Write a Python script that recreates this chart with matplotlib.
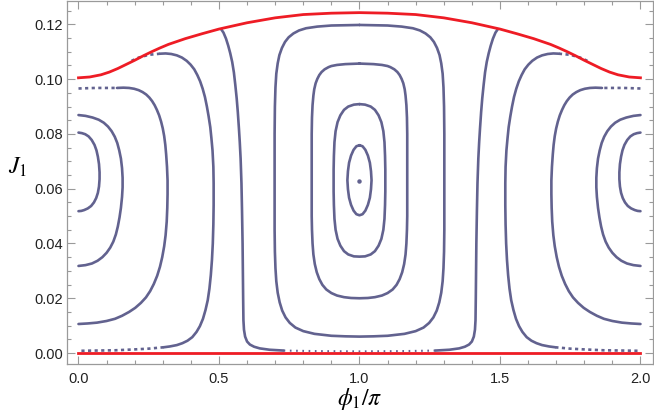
import matplotlib
matplotlib.use("Agg")
import matplotlib.pyplot as plt
from matplotlib.ticker import MultipleLocator

# ---------------------------------------------------------------------------
# data (x in units of pi, J1)
# ---------------------------------------------------------------------------

# red boundaries
upper_x = [0.00, 0.04, 0.08, 0.11, 0.14, 0.17, 0.20, 0.23, 0.26, 0.29, 0.32, 0.38,
           0.44, 0.50, 0.60, 0.70, 0.80, 0.90, 1.00, 1.10, 1.20, 1.30, 1.40, 1.50,
           1.56, 1.62, 1.68, 1.71, 1.74, 1.77, 1.80, 1.83, 1.86, 1.89, 1.92, 1.96,
           2.00]
upper_j = [0.1005, 0.1008, 0.1016, 0.1026, 0.1039, 0.1054, 0.1069, 0.1085, 0.1100,
           0.1114, 0.1127, 0.1148, 0.1166, 0.1183, 0.1206, 0.1224, 0.1236, 0.1241,
           0.1243, 0.1241, 0.1236, 0.1224, 0.1206, 0.1183, 0.1166, 0.1148, 0.1127,
           0.1114, 0.1100, 0.1085, 0.1069, 0.1054, 0.1039, 0.1026, 0.1016, 0.1008,
           0.1005]
lower_x = [0.0, 2.0]
lower_j = [0.0, 0.0]

# fixed point at phi = pi
center_x = [1.0]
center_j = [0.0630]

# closed orbits around phi = pi
c1_x = [1.000, 0.989, 0.979, 0.970, 0.963, 0.959, 0.957, 0.959, 0.963, 0.970, 0.979,
        0.989, 1.000,
        1.011, 1.021, 1.030, 1.037, 1.041, 1.043, 1.041, 1.037, 1.030, 1.021, 1.011,
        1.000]
c1_j = [0.0759, 0.0755, 0.0742, 0.0721, 0.0695, 0.0664, 0.0631, 0.0598, 0.0567, 0.0541,
        0.0520, 0.0507, 0.0503,
        0.0507, 0.0520, 0.0541, 0.0567, 0.0598, 0.0631, 0.0664, 0.0695, 0.0721, 0.0742,
        0.0755, 0.0759]

c2_x = [1.000, 0.980, 0.960, 0.945, 0.932, 0.922, 0.915, 0.911, 0.909, 0.908, 0.908,
        0.908, 0.909, 0.911, 0.915, 0.922, 0.932, 0.945, 0.960, 0.980, 1.000,
        1.020, 1.040, 1.055, 1.068, 1.078, 1.085, 1.089, 1.091, 1.092, 1.092, 1.092,
        1.091, 1.089, 1.085, 1.078, 1.068, 1.055, 1.040, 1.020, 1.000]
c2_j = [0.0909, 0.0907, 0.0900, 0.0888, 0.0868, 0.0843, 0.0810, 0.0770, 0.0720, 0.0670,
        0.0630, 0.0590, 0.0540, 0.0490, 0.0450, 0.0417, 0.0392, 0.0372, 0.0360, 0.0353,
        0.0352,
        0.0353, 0.0360, 0.0372, 0.0392, 0.0417, 0.0450, 0.0490, 0.0540, 0.0590, 0.0630,
        0.0670, 0.0720, 0.0770, 0.0810, 0.0843, 0.0868, 0.0888, 0.0900, 0.0907, 0.0909]

c3_x = [1.000, 0.950, 0.920, 0.900, 0.890, 0.876, 0.865, 0.857, 0.850, 0.844, 0.839,
        0.836, 0.833, 0.831, 0.830, 0.830, 0.830, 0.831, 0.833, 0.836, 0.841, 0.848,
        0.857, 0.868, 0.882, 0.900, 0.920, 0.945, 0.970, 1.000,
        1.030, 1.055, 1.080, 1.100, 1.118, 1.132, 1.143, 1.152, 1.159, 1.164, 1.167,
        1.169, 1.170, 1.170, 1.170, 1.169, 1.167, 1.164, 1.161, 1.156, 1.150, 1.143,
        1.135, 1.124, 1.110, 1.100, 1.080, 1.050, 1.000]
c3_j = [0.1057, 0.1055, 0.1052, 0.1048, 0.1044, 0.1036, 0.1026, 0.1015, 0.1001, 0.0985,
        0.0963, 0.0940, 0.0905, 0.0860, 0.0800, 0.0630, 0.0500, 0.0450, 0.0400, 0.0360,
        0.0325, 0.0295, 0.0270, 0.0249, 0.0232, 0.0219, 0.0210, 0.0204, 0.0201, 0.0200,
        0.0201, 0.0204, 0.0210, 0.0219, 0.0232, 0.0249, 0.0270, 0.0295, 0.0325, 0.0360,
        0.0400, 0.0450, 0.0500, 0.0630, 0.0800, 0.0860, 0.0905, 0.0940, 0.0963, 0.0985,
        0.1001, 0.1015, 0.1026, 0.1036, 0.1044, 0.1048, 0.1052, 0.1055, 0.1057]

c4_x = [1.000, 0.950, 0.900, 0.850, 0.810, 0.785, 0.765, 0.748, 0.735, 0.724, 0.715,
        0.709, 0.704, 0.701, 0.699, 0.698, 0.698, 0.699, 0.701, 0.704, 0.709, 0.716,
        0.725, 0.737, 0.752, 0.772, 0.800, 0.840, 0.900, 0.950, 1.000,
        1.050, 1.100, 1.160, 1.200, 1.228, 1.248, 1.263, 1.275, 1.284, 1.291, 1.296,
        1.299, 1.301, 1.302, 1.302, 1.301, 1.299, 1.296, 1.291, 1.285, 1.276, 1.265,
        1.252, 1.235, 1.215, 1.190, 1.150, 1.100, 1.050, 1.000]
c4_j = [0.1198, 0.1197, 0.1196, 0.1192, 0.1186, 0.1178, 0.1167, 0.1153, 0.1136, 0.1114,
        0.1088, 0.1058, 0.1020, 0.0970, 0.0900, 0.0800, 0.0450, 0.0370, 0.0310, 0.0262,
        0.0220, 0.0185, 0.0155, 0.0130, 0.0110, 0.0093, 0.0080, 0.0070, 0.0063, 0.0061,
        0.0060,
        0.0061, 0.0063, 0.0070, 0.0080, 0.0093, 0.0110, 0.0130, 0.0155, 0.0185, 0.0220,
        0.0262, 0.0310, 0.0370, 0.0450, 0.0800, 0.0900, 0.0970, 0.1020, 0.1058, 0.1088,
        0.1114, 0.1136, 0.1153, 0.1167, 0.1178, 0.1186, 0.1192, 0.1196, 0.1197, 0.1198]

# separatrix-like curves (vertical branches near 0.58 pi / 1.42 pi)
s1_x = [0.508, 0.516, 0.525, 0.533, 0.540, 0.547, 0.553, 0.558, 0.563, 0.567, 0.571,
        0.574, 0.577, 0.580, 0.582, 0.584, 0.585, 0.586, 0.587, 0.589, 0.593, 0.600,
        0.610, 0.625, 0.645, 0.680, 0.730]
s1_j = [0.1182, 0.1170, 0.1148, 0.1122, 0.1095, 0.1063, 0.1025, 0.0980, 0.0930, 0.0880,
        0.0820, 0.0770, 0.0710, 0.0620, 0.0520, 0.0400, 0.0300, 0.0200, 0.0120, 0.0085,
        0.0060, 0.0042, 0.0031, 0.0023, 0.0017, 0.0012, 0.0009]
s2_x = [1.270, 1.320, 1.355, 1.375, 1.390, 1.400, 1.407, 1.411, 1.413, 1.414, 1.415,
        1.416, 1.418, 1.420, 1.423, 1.426, 1.429, 1.433, 1.437, 1.442, 1.447, 1.453,
        1.460, 1.467, 1.475, 1.484, 1.492]
s2_j = [0.0009, 0.0012, 0.0017, 0.0023, 0.0031, 0.0042, 0.0060, 0.0085, 0.0120, 0.0200,
        0.0300, 0.0400, 0.0520, 0.0620, 0.0710, 0.0770, 0.0820, 0.0880, 0.0930, 0.0980,
        0.1025, 0.1063, 0.1095, 0.1122, 0.1148, 0.1170, 0.1182]
s_bottom_x = [0.730, 0.850, 1.000, 1.150, 1.270]
s_bottom_j = [0.0009, 0.0007, 0.0006, 0.0007, 0.0009]

# orbits around phi = 0 (left edge)
l1_x = [0.000, 0.012, 0.024, 0.036, 0.047, 0.057, 0.064, 0.069, 0.073, 0.075, 0.075,
        0.073, 0.069, 0.063, 0.055, 0.045, 0.033, 0.020, 0.010, 0.000]
l1_j = [0.0805, 0.0803, 0.0799, 0.0791, 0.0778, 0.0760, 0.0740, 0.0717, 0.0690, 0.0660,
        0.0635, 0.0608, 0.0585, 0.0566, 0.0550, 0.0537, 0.0528, 0.0522, 0.0519, 0.0518]
l2_x = [0.000, 0.025, 0.050, 0.072, 0.090, 0.105, 0.118, 0.129, 0.138, 0.145, 0.151,
        0.155, 0.157, 0.157, 0.155, 0.151, 0.146, 0.140, 0.133, 0.124, 0.113, 0.100,
        0.085, 0.068, 0.048, 0.025, 0.000]
l2_j = [0.0869, 0.0866, 0.0860, 0.0852, 0.0841, 0.0827, 0.0810, 0.0790, 0.0767, 0.0740,
        0.0710, 0.0675, 0.0640, 0.0605, 0.0570, 0.0530, 0.0495, 0.0462, 0.0433, 0.0407,
        0.0385, 0.0366, 0.0350, 0.0337, 0.0327, 0.0321, 0.0318]
l3_top_x = [0.000, 0.060, 0.137]
l3_top_j = [0.0966, 0.0968, 0.0968]
l3_x = [0.137, 0.160, 0.180, 0.198, 0.214, 0.228, 0.241, 0.252, 0.262, 0.271, 0.279,
        0.287, 0.294, 0.300, 0.305, 0.309, 0.312, 0.315, 0.317, 0.317, 0.316, 0.314,
        0.310, 0.305, 0.298, 0.290, 0.280, 0.268, 0.255, 0.240, 0.222, 0.202, 0.180,
        0.155, 0.130, 0.100, 0.066, 0.033, 0.000]
l3_j = [0.0968, 0.0969, 0.0968, 0.0965, 0.0960, 0.0953, 0.0944, 0.0933, 0.0920, 0.0905,
        0.0888, 0.0868, 0.0845, 0.0820, 0.0792, 0.0760, 0.0725, 0.0680, 0.0630, 0.0580,
        0.0530, 0.0480, 0.0430, 0.0390, 0.0350, 0.0315, 0.0282, 0.0252, 0.0226, 0.0203,
        0.0183, 0.0165, 0.0150, 0.0136, 0.0125, 0.0117, 0.0111, 0.0108, 0.0106]
l4_top_x = [0.189, 0.215, 0.250, 0.290]
l4_top_j = [0.1067, 0.1079, 0.1089, 0.1093]
l4_x = [0.290, 0.310, 0.330, 0.350, 0.368, 0.385, 0.399, 0.412, 0.423, 0.433, 0.442,
        0.450, 0.457, 0.463, 0.469, 0.473, 0.477, 0.480, 0.481, 0.481, 0.480, 0.478,
        0.475, 0.471, 0.466, 0.460, 0.452, 0.443, 0.432, 0.420, 0.405, 0.388, 0.370,
        0.350, 0.325, 0.303]
l4_j = [0.1093, 0.1094, 0.1092, 0.1087, 0.1079, 0.1067, 0.1053, 0.1036, 0.1015, 0.0992,
        0.0965, 0.0935, 0.0900, 0.0865, 0.0825, 0.0785, 0.0740, 0.0680, 0.0620, 0.0540,
        0.0470, 0.0400, 0.0340, 0.0285, 0.0235, 0.0193, 0.0157, 0.0125, 0.0098, 0.0077,
        0.0058, 0.0045, 0.0036, 0.0029, 0.0024, 0.0021]
l4_bot_x = [0.303, 0.250, 0.196, 0.130, 0.060, 0.000]
l4_bot_j = [0.0021, 0.0016, 0.0013, 0.0010, 0.0009, 0.0008]

# orbits around phi = 2 pi (right edge), same J readings as the left side
r1_x = [2.000, 1.988, 1.976, 1.964, 1.953, 1.943, 1.936, 1.931, 1.927, 1.925, 1.925,
        1.927, 1.931, 1.937, 1.945, 1.955, 1.967, 1.980, 1.990, 2.000]
r1_j = l1_j
r2_x = [2.000, 1.975, 1.950, 1.928, 1.910, 1.895, 1.882, 1.871, 1.862, 1.855, 1.849,
        1.845, 1.843, 1.843, 1.845, 1.849, 1.854, 1.860, 1.867, 1.876, 1.887, 1.900,
        1.915, 1.932, 1.952, 1.975, 2.000]
r2_j = l2_j
r3_top_x = [2.000, 1.940, 1.863]
r3_top_j = l3_top_j
r3_x = [1.863, 1.840, 1.820, 1.802, 1.786, 1.772, 1.759, 1.748, 1.738, 1.729, 1.721,
        1.713, 1.706, 1.700, 1.695, 1.691, 1.688, 1.685, 1.683, 1.683, 1.684, 1.686,
        1.690, 1.695, 1.702, 1.710, 1.720, 1.732, 1.745, 1.760, 1.778, 1.798, 1.820,
        1.845, 1.870, 1.900, 1.934, 1.967, 2.000]
r3_j = l3_j
r4_top_x = [1.811, 1.785, 1.750, 1.710]
r4_top_j = l4_top_j
r4_x = [1.710, 1.690, 1.670, 1.650, 1.632, 1.615, 1.601, 1.588, 1.577, 1.567, 1.558,
        1.550, 1.543, 1.537, 1.531, 1.527, 1.523, 1.520, 1.519, 1.519, 1.520, 1.522,
        1.525, 1.529, 1.534, 1.540, 1.548, 1.557, 1.568, 1.580, 1.595, 1.612, 1.630,
        1.650, 1.675, 1.697]
r4_j = l4_j
r4_bot_x = [1.697, 1.750, 1.804, 1.870, 1.940, 2.000]
r4_bot_j = l4_bot_j

# ---------------------------------------------------------------------------
# figure
# ---------------------------------------------------------------------------
plt.rcParams["mathtext.fontset"] = "stix"
plt.rcParams["font.family"] = ["Liberation Sans", "DejaVu Sans"]

ORBIT = "#62628f"
RED = "#ee1c25"
FRAME = "#9a9a9a"

fig = plt.figure(figsize=(6.54, 4.19), dpi=100)
ax = fig.add_axes([0.1024, 0.1313, 0.896, 0.866])

solid = dict(color=ORBIT, lw=1.9, solid_capstyle="round",
             solid_joinstyle="round", zorder=2)
sparse = dict(color=ORBIT, lw=1.9, linestyle=(0, (1.2, 1.3)), zorder=2)

for xs, js in [(c1_x, c1_j), (c2_x, c2_j), (c3_x, c3_j), (c4_x, c4_j),
               (s1_x, s1_j), (s2_x, s2_j),
               (l1_x, l1_j), (l2_x, l2_j), (l3_x, l3_j), (l4_x, l4_j),
               (r1_x, r1_j), (r2_x, r2_j), (r3_x, r3_j), (r4_x, r4_j)]:
    ax.plot(xs, js, **solid)

for xs, js in [(l3_top_x, l3_top_j), (r3_top_x, r3_top_j),
               (l4_top_x, l4_top_j), (r4_top_x, r4_top_j),
               (l4_bot_x, l4_bot_j), (r4_bot_x, r4_bot_j)]:
    ax.plot(xs, js, **sparse)

ax.plot(s_bottom_x, s_bottom_j, color=ORBIT, lw=1.5,
        linestyle=(0, (0.8, 2.2)), zorder=2)
ax.plot(center_x, center_j, "o", color=ORBIT, ms=2.2, zorder=2)

# red boundaries on top
ax.plot(upper_x, upper_j, color=RED, lw=2.0, zorder=3)
ax.plot(lower_x, lower_j, color=RED, lw=2.0, zorder=3)

# ------------------------------------------------------------------ axes / frame
ax.set_xlim(-0.041, 2.0445)
ax.set_ylim(-0.004, 0.1285)

ax.xaxis.set_major_locator(MultipleLocator(0.5))
ax.xaxis.set_minor_locator(MultipleLocator(0.1))
ax.yaxis.set_major_locator(MultipleLocator(0.02))
ax.yaxis.set_minor_locator(MultipleLocator(0.005))
ax.xaxis.set_major_formatter(plt.FuncFormatter(lambda v, _: f"{v:.1f}"))
ax.yaxis.set_major_formatter(plt.FuncFormatter(lambda v, _: f"{v:.2f}"))

for side in ax.spines.values():
    side.set_color(FRAME)
    side.set_linewidth(0.9)

ax.tick_params(which="both", direction="in", top=True, right=True,
               color=FRAME, width=0.8, labelcolor="#222222", labelsize=10.5)
ax.tick_params(which="major", length=5.5)
ax.tick_params(which="minor", length=3.2)
ax.tick_params(axis="x", pad=6)
ax.tick_params(axis="y", pad=3)

ax.set_xlabel(r"$\phi_1/\pi$", fontsize=17, labelpad=0)
ax.set_ylabel(r"$J_1$", fontsize=17, rotation=0, labelpad=6)
ax.yaxis.set_label_coords(-0.085, 0.51)

fig.savefig("out.png", dpi=100)
plt.close(fig)
